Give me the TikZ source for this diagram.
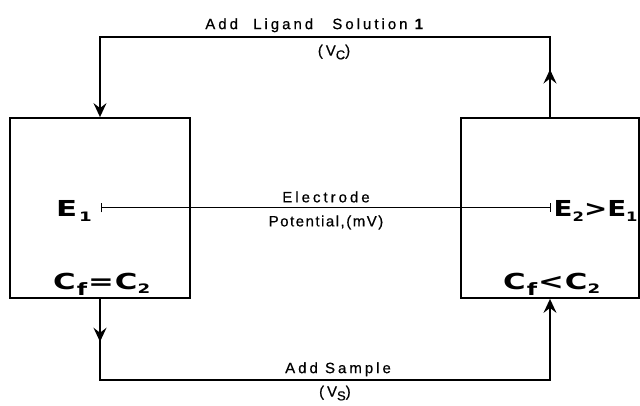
\documentclass[tikz,border=0pt]{standalone}
\usepackage{fontspec}
\setmainfont{Liberation Sans}
\newfontfamily\lblfont[LetterSpace=20,FakeBold=0.6]{Liberation Sans}
\newfontfamily\bigfont[FakeStretch=1.4]{DejaVu Sans Bold}
\newfontfamily\bigfontn[FakeStretch=1.26]{DejaVu Sans Bold}
\usetikzlibrary{arrows.meta,decorations.markings}
\newcommand{\lowx}[1]{\raisebox{-0.22em}{\fontsize{13}{13}\selectfont #1}}
\newcommand{\lowf}[1]{\raisebox{-0.28em}{\fontsize{17}{17}\selectfont #1}}
\newcommand{\lowl}[1]{\raisebox{-0.25em}{\fontsize{13}{13}\selectfont #1}}
\begin{document}
\begin{tikzpicture}[x=1pt,y=-1pt,
  box/.style={draw, line width=1.8pt, minimum height=180pt, inner sep=0pt},
  conn/.style={line width=1.5pt},
  tipA/.style={-{Stealth[length=14pt,width=13pt,inset=5pt]}},
  midtip/.style={postaction={decorate},
     decoration={markings, mark=at position #1 with {\arrow{Stealth[length=14pt,width=13pt,inset=5pt]}}}},
  big/.style={font=\bigfont\fontsize{22}{22}\selectfont, inner sep=1pt},
  bign/.style={font=\bigfontn\fontsize{22}{22}\selectfont, inner sep=0.5pt},
  lbl/.style={font=\lblfont\fontsize{15}{15}\selectfont, inner sep=1pt}]
\useasboundingbox (0,0) rectangle (640,406);
% boxes
\node[box, minimum width=180pt] (L) at (100,208) {};
\node[box, minimum width=178pt] (R) at (550,208) {};
% corner coordinates
\coordinate (tl) at (100,37);
\coordinate (tr) at (550,37);
\coordinate (bl) at (100,380);
\coordinate (br) at (550,380);
% top connector: right box up, across, down to left box
\draw[conn, tipA, midtip=0.078] (R.north) -- (tr)
  -- node[lbl, pos=0.524, above=3pt] {Add\hspace{8pt} Ligand\hspace{12pt} Solution {\bfseries 1}}
     node[lbl, pos=0.48, below=6pt] {(V\lowl{C})}
  (tl) -- (L.north);
% bottom connector: left box down, across, up to right box
\draw[conn, tipA, midtip=0.07] (L.south) -- (bl)
  -- node[lbl, pos=0.529, above=2pt] {Add Sample}
     node[lbl, pos=0.522, below=4pt] {(V\lowl{S})}
  (br) -- (R.south);
% labels inside boxes
\node[big, anchor=west] (e1) at (55,211) {E\kern2pt\lowx{1}};
\node[bign, anchor=west] (e2) at (553,211) {E\lowx{2}>E\lowx{1}};
\node[big, anchor=west] (c1) at (52,284) {C\kern1pt\lowf{f}\kern1pt=\kern1pt C\lowx{2}};
\node[big, anchor=west] (c2) at (502,284) {C\kern1pt\lowf{f}\kern1pt<\kern1pt C\lowx{2}};
% electrode potential connector
\coordinate (t1) at (101,208);
\coordinate (t2) at (551,208);
\draw[line width=1pt, {Bar[width=9pt]}-{Bar[width=9pt]}] (t1)
  -- node[lbl, above=4pt] {Electrode}
     node[lbl, below=6pt] {\addfontfeature{LetterSpace=10}Potential,(mV)}
  (t2);
\end{tikzpicture}
\end{document}
